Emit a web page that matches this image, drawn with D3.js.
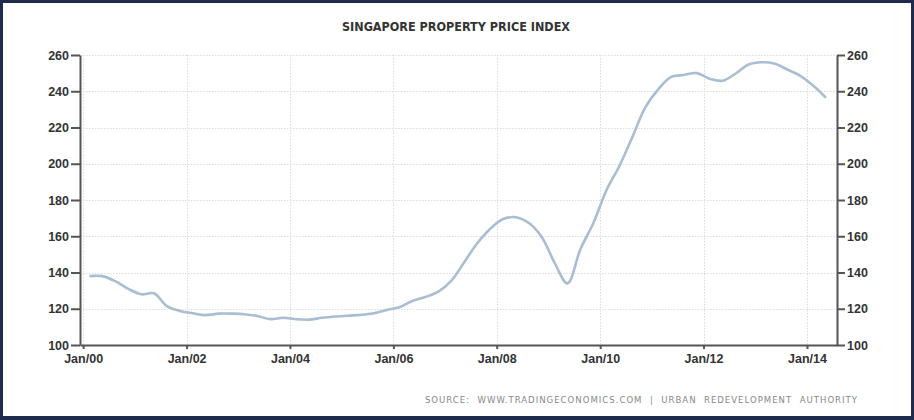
<!DOCTYPE html>
<style>
    body{ margin:0; background:#fff; }
    svg{ display:block; font-family:Tahoma,"DejaVu Sans Condensed","DejaVu Sans",sans-serif; }
</style>
<svg width="914" height="420"></svg>
<script src="https://cdn.jsdelivr.net/npm/d3@7"></script>
<script>
    var svg=d3.select("svg");
    var width=914,height=420;

    // quarterly index readings
    var quarters=[
        "2000Q1","2000Q2","2000Q3","2000Q4","2001Q1","2001Q2","2001Q3","2001Q4",
        "2002Q1","2002Q2","2002Q3","2002Q4","2003Q1","2003Q2","2003Q3","2003Q4",
        "2004Q1","2004Q2","2004Q3","2004Q4","2005Q1","2005Q2","2005Q3","2005Q4",
        "2006Q1","2006Q2","2006Q3","2006Q4","2007Q1","2007Q2","2007Q3","2007Q4",
        "2008Q1","2008Q2","2008Q3","2008Q4","2009Q1","2009Q2","2009Q3","2009Q4",
        "2010Q1","2010Q2","2010Q3","2010Q4","2011Q1","2011Q2","2011Q3","2011Q4",
        "2012Q1","2012Q2","2012Q3","2012Q4","2013Q1","2013Q2","2013Q3","2013Q4",
        "2014Q1","2014Q2"];
    var priceIndex=[
        138,138,135.2,131,128,128.5,121.5,118.8,
        117.5,116.5,117.3,117.3,117,116,114.3,115,
        114.2,114,115,115.7,116.2,116.6,117.5,119.3,
        121,124.3,126.5,129.5,135.5,145.5,156,164,
        169.5,170.5,167.3,159.5,145,134,153,167.5,
        185.5,198.5,214.5,231,241,247.8,249,250,
        246.8,245.8,249.8,254.8,256,255.3,252,248.5,
        243,236.4];
    var yTicks=[100,120,140,160,180,200,220,240,260];
    var xTickYears=[2000,2002,2004,2006,2008,2010,2012,2014];

    var title="SINGAPORE PROPERTY PRICE INDEX";
    var source="SOURCE:  WWW.TRADINGECONOMICS.COM  |  URBAN  REDEVELOPMENT  AUTHORITY";

    // quarter label -> mid-quarter date
    function qDate(q){
        var yr=+q.slice(0,4), n=+q.slice(5);
        return new Date(yr,(n-1)*3+1,15);
    }
    var data=quarters.map(function(q,i){ return {date:qDate(q),value:priceIndex[i]}; });

    var pLeft=80,pRight=837,pTop=55,pBottom=345;

    var x=d3.scaleTime()
        .domain([new Date(1999,11,10),new Date(2014,7,1)])
        .range([pLeft,pRight]);
    var y=d3.scaleLinear()
        .domain([100,260])
        .range([pBottom,pTop]);

    // frame
    svg.append("rect")
        .attr("x",1.5).attr("y",1.5)
        .attr("width",width-3).attr("height",height-4)
        .attr("fill","#fff")
        .attr("stroke","#1e2b4c")
        .attr("stroke-width",3);
    svg.append("rect")
        .attr("x",0).attr("y",416)
        .attr("width",width).attr("height",4)
        .attr("fill","#1e2b4c");

    // grid
    var grid=svg.append("g").attr("stroke","#dcdcdc").attr("stroke-dasharray","1.5,1.5");
    grid.selectAll(".hg")
        .data(yTicks.slice(1))
        .enter().append("line")
        .attr("x1",pLeft).attr("x2",pRight)
        .attr("y1",function(d){ return Math.round(y(d))+0.5; })
        .attr("y2",function(d){ return Math.round(y(d))+0.5; });
    grid.selectAll(".vg")
        .data(xTickYears)
        .enter().append("line")
        .attr("x1",function(d){ return Math.round(x(new Date(d,0,1)))+0.5; })
        .attr("x2",function(d){ return Math.round(x(new Date(d,0,1)))+0.5; })
        .attr("y1",pTop).attr("y2",pBottom);

    // line
    var line=d3.line()
        .x(function(d){ return x(d.date); })
        .y(function(d){ return y(d.value); })
        .curve(d3.curveCatmullRom.alpha(0.5));
    svg.append("path")
        .datum(data)
        .attr("fill","none")
        .attr("stroke","#a9bdd3")
        .attr("stroke-width",2.6)
        .attr("stroke-linejoin","round")
        .attr("d",line);

    // axes
    function styleAxis(g){
        g.select(".domain").attr("stroke","#555").attr("stroke-width",2);
        g.selectAll(".tick line").attr("stroke","#555").attr("stroke-width",2);
        g.selectAll(".tick text")
            .attr("fill","#333")
            .attr("font-size","12.5px")
            .attr("font-weight","bold");
    }

    var yLeft=d3.axisLeft(y).tickValues(yTicks).tickSizeInner(9).tickSizeOuter(0).tickPadding(2);
    svg.append("g")
        .attr("transform","translate("+pLeft+",0)")
        .call(yLeft)
        .call(styleAxis);

    var yRight=d3.axisRight(y).tickValues(yTicks).tickSizeInner(8).tickSizeOuter(0).tickPadding(2);
    svg.append("g")
        .attr("transform","translate("+pRight+",0)")
        .call(yRight)
        .call(styleAxis);

    var xAxis=d3.axisBottom(x)
        .tickValues(xTickYears.map(function(d){ return new Date(d,0,1); }))
        .tickFormat(d3.timeFormat("Jan/%y"))
        .tickSizeInner(4).tickSizeOuter(0).tickPadding(5);
    svg.append("g")
        .attr("transform","translate(0,"+pBottom+")")
        .call(xAxis)
        .call(styleAxis);

    // titles
    svg.append("text")
        .attr("x",456).attr("y",31)
        .attr("text-anchor","middle")
        .attr("font-family","'Liberation Sans Narrow','DejaVu Sans Condensed',sans-serif")
        .attr("font-size","12.5px")
        .attr("font-weight","bold")
        .attr("fill","#333")
        .text(title);

    svg.append("text")
        .attr("x",858).attr("y",403)
        .attr("text-anchor","end")
        .attr("font-size","9.5px")
        .attr("letter-spacing","1px")
        .attr("fill","#888")
        .style("white-space","pre")
        .text(source);
</script>
